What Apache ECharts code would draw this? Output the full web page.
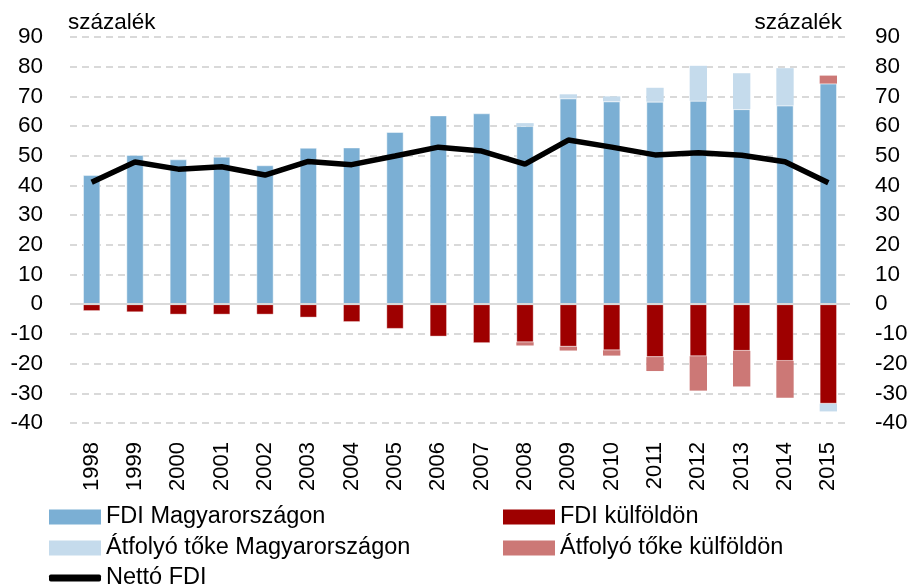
<!DOCTYPE html>
<html lang="hu">
<head>
    <meta charset="UTF-8">
    <title>FDI</title>
    <script src="https://cdn.jsdelivr.net/npm/echarts@6/dist/echarts.min.js"></script>
    <style>
        html, body { margin: 0; padding: 0; background: #fff; }
    </style>
</head>
<body>
<div id="chart" style="width: 912px;height:588px;"></div>
<script>
    // évek
    var years = ['1998', '1999', '2000', '2001', '2002', '2003', '2004', '2005', '2006',
        '2007', '2008', '2009', '2010', '2011', '2012', '2013', '2014', '2015'];
    // FDI Magyarországon
    var fdiHu = [43.5, 50.3, 48.8, 49.7, 46.8, 52.7, 52.8, 58.0, 63.6,
        64.3, 60.0, 69.3, 68.3, 68.2, 68.5, 65.7, 66.9, 74.3];
    // FDI külföldön
    var fdiAbroad = [-2.3, -2.7, -3.5, -3.5, -3.5, -4.5, -6.0, -8.3, -10.9,
        -13.1, -12.8, -14.3, -15.5, -17.8, -17.5, -15.7, -19.1, -33.5];
    // Átfolyó tőke Magyarországon
    var transitHu = [0, 0, 0, 0, 0, 0, 0, 0, 0,
        0, 1.0, 1.4, 1.7, 4.7, 11.8, 12.1, 12.6, -2.6];
    // Átfolyó tőke külföldön
    var transitAbroad = [0, 0, 0, 0, 0, 0, 0, 0, 0,
        0, -1.1, -1.3, -1.8, -4.7, -11.6, -12.0, -12.4, 2.7];
    // Nettó FDI
    var netFdi = [41.1, 47.9, 45.5, 46.3, 43.5, 48.1, 47.0, 49.9, 52.9,
        51.6, 47.2, 55.3, 52.9, 50.3, 51.0, 50.2, 48.0, 40.9];

    var fontName = "'Liberation Sans', Arial, sans-serif";
    var textColor = '#000';

    var myChart = echarts.init(document.getElementById('chart'));

    function yAxis(pos) {
        return {
            type: 'value',
            position: pos,
            min: -40,
            max: 90,
            interval: 10,
            name: 'százalék',
            nameLocation: 'end',
            nameGap: 3,
            nameTextStyle: {
                fontFamily: fontName,
                fontSize: 22.5,
                color: textColor,
                align: pos === 'left' ? 'left' : 'right',
                padding: pos === 'left' ? [0, 0, 0, -2] : [0, 8, 0, 0]
            },
            axisLine: {show: false},
            axisTick: {show: false},
            axisLabel: {
                fontFamily: fontName,
                fontSize: 22.5,
                color: textColor,
                margin: pos === 'left' ? 27 : 25,
                align: pos === 'left' ? 'right' : 'left'
            },
            splitLine: {
                show: pos === 'left',
                lineStyle: {color: '#d9d9d9', type: [7, 5], width: 2}
            }
        };
    }

    function legend(name, left, top, extra) {
        var l = {
            data: [name],
            left: left,
            top: top,
            padding: 0,
            icon: 'rect',
            itemWidth: 52,
            itemHeight: 15,
            itemGap: 0,
            itemStyle: {borderWidth: 0},
            textStyle: {fontFamily: fontName, fontSize: 23.5, color: textColor, padding: [0, 0, 0, 0]}
        };
        return Object.assign(l, extra || {});
    }

    var option = {
        backgroundColor: '#fff',
        animation: false,
        grid: {left: 70, right: 62, top: 37, bottom: 165},
        legend: [
            legend('FDI Magyarországon', 49, 505),
            legend('FDI külföldön', 503, 505),
            legend('Átfolyó tőke Magyarországon', 49, 536),
            legend('Átfolyó tőke külföldön', 503, 536),
            legend('Nettó FDI', 49, 566, {icon: 'roundRect', itemHeight: 7, itemStyle: {color: '#000', borderWidth: 0}})
        ],
        xAxis: {
            type: 'category',
            data: years,
            axisLine: {show: false, onZero: false},
            axisTick: {show: false},
            axisLabel: {
                rotate: 90,
                fontFamily: fontName,
                fontSize: 22,
                color: textColor,
                margin: 19,
                interval: 0
            }
        },
        yAxis: [yAxis('left'), yAxis('right')],
        series: [
            {
                name: 'FDI Magyarországon',
                type: 'bar',
                stack: 'fdi',
                barWidth: '40%',
                itemStyle: {color: '#7bafd4', borderColor: 'rgba(255,255,255,0.45)', borderWidth: 1},
                data: fdiHu,
                markLine: {
                    silent: true,
                    symbol: 'none',
                    label: {show: false},
                    lineStyle: {color: '#d9d9d9', type: 'solid', width: 2},
                    data: [{yAxis: 0}]
                }
            },
            {
                name: 'FDI külföldön',
                type: 'bar',
                stack: 'fdi',
                itemStyle: {color: '#9e0000', borderColor: 'rgba(255,255,255,0.35)', borderWidth: 1},
                data: fdiAbroad
            },
            {
                name: 'Átfolyó tőke Magyarországon',
                type: 'bar',
                stack: 'fdi',
                itemStyle: {color: '#c5dbec'},
                data: transitHu
            },
            {
                name: 'Átfolyó tőke külföldön',
                type: 'bar',
                stack: 'fdi',
                itemStyle: {color: '#cc7876'},
                data: transitAbroad
            },
            {
                name: 'Nettó FDI',
                type: 'line',
                symbol: 'none',
                z: 5,
                lineStyle: {color: '#000', width: 5.5},
                itemStyle: {color: '#000'},
                data: netFdi
            }
        ]
    };

    myChart.setOption(option);
</script>
</body>
</html>
